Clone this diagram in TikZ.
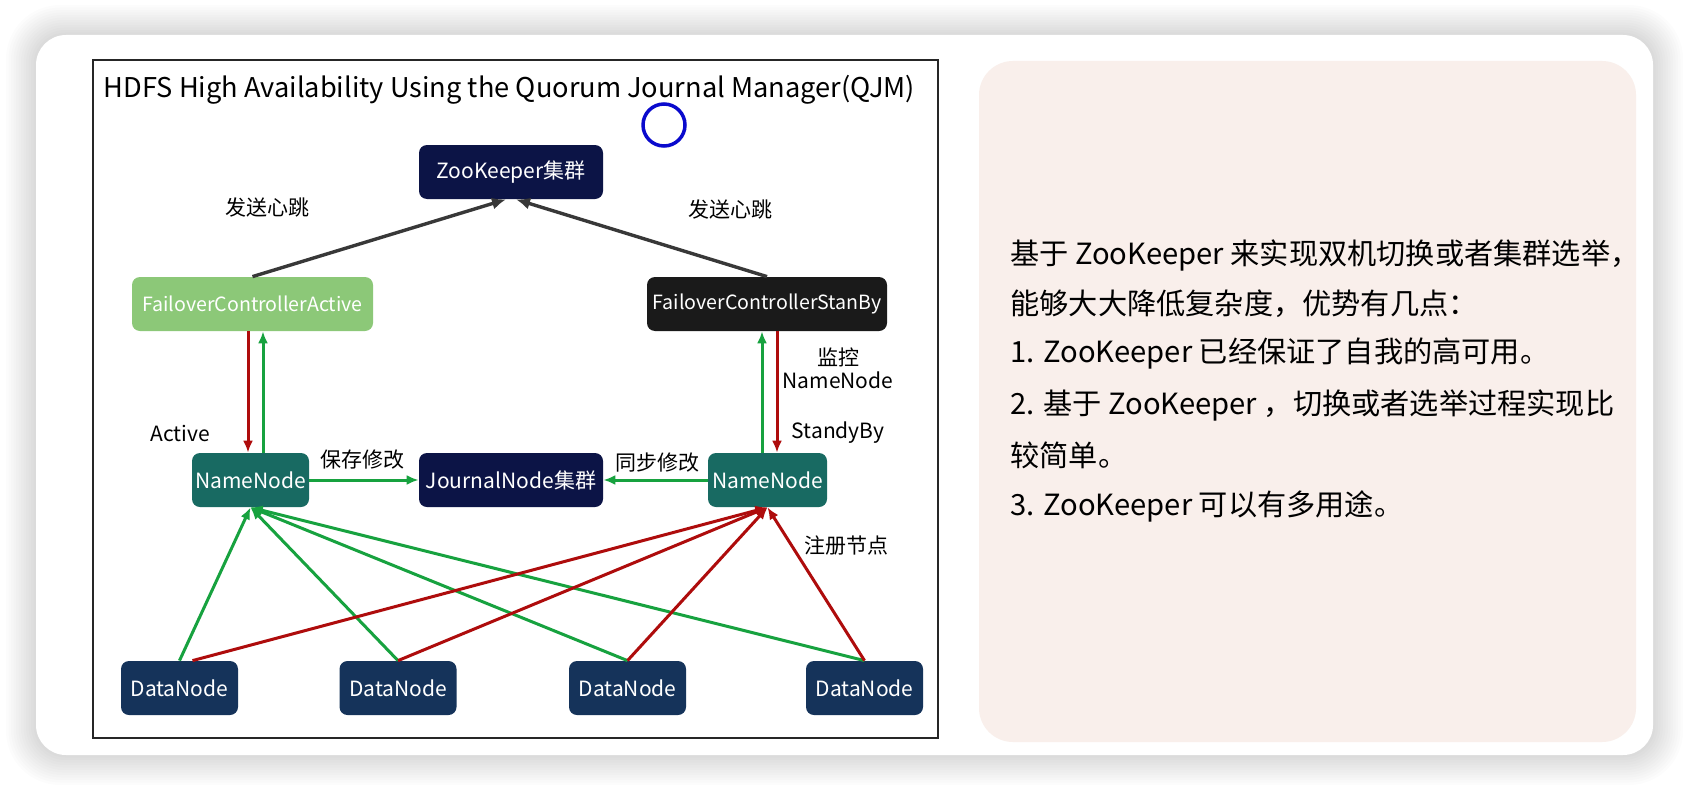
\documentclass[tikz,border=0pt]{standalone}
\usepackage{fontspec}
\setmainfont{Noto Sans CJK SC}
\usepackage{xcolor}
\usetikzlibrary{arrows.meta}

\definecolor{zknavy}{HTML}{0C1446}
\definecolor{dnblue}{HTML}{15335A}
\definecolor{nnteal}{HTML}{186A62}
\definecolor{fcgreen}{HTML}{8CC878}
\definecolor{fcblack}{HTML}{1A1A1A}
\definecolor{argreen}{HTML}{17A23F}
\definecolor{arred}{HTML}{AE0C0C}
\definecolor{argray}{HTML}{383838}
\definecolor{cardpink}{HTML}{F9EFEB}
\definecolor{markblue}{HTML}{0A0ACD}

\begin{document}
\begin{tikzpicture}[x=0.5pt,y=-0.5pt,
    box/.style={rounded corners=4pt,text=white,inner sep=0pt,minimum height=27pt,
                font=\fontsize{10.5}{12}\selectfont},
    fcbox/.style={box,font=\fontsize{9.8}{12}\selectfont},
    lab/.style={inner sep=0pt,font=\fontsize{10.5}{12}\selectfont},
    txt/.style={anchor=west,inner sep=0pt,font=\fontsize{14.6}{18}\selectfont},
    gline/.style={draw=argreen,line width=1.5pt,-{Latex[length=6pt,width=5pt]}},
    rline/.style={draw=arred,line width=1.5pt,-{Latex[length=6pt,width=5pt]}},
    kline/.style={draw=argray,line width=1.7pt,-{Latex[length=7pt,width=6pt]}}]

        \useasboundingbox (0,0) rectangle (1690,792);
        \fill[white] (0,0) rectangle (1690,792);
        \foreach \i in {1,...,12}
            \fill[black,opacity=0.011,rounded corners=15pt+\i pt]
                (36-2.5*\i,35-2.5*\i) rectangle (1653+2.5*\i,755+2.5*\i);
        \fill[white,rounded corners=15pt] (36,35) rectangle (1653,755);
        \fill[cardpink,rounded corners=17pt] (979,61) rectangle (1636,742);
        \draw[line width=1pt,black!85] (93,60) rectangle (938,738);

        \coordinate (T)  at (509.5,90);
        \coordinate (ZK) at (511,172);
        \coordinate (FA) at (252.5,304);
        \coordinate (FS) at (767,304);
        \coordinate (NA) at (250.5,480);
        \coordinate (JN) at (511,480);
        \coordinate (NS) at (767.5,480);

        \node[inner sep=0pt,font=\fontsize{13.6}{16}\selectfont] (title) at (T)
            {HDFS High Availability Using the Quorum Journal Manager(QJM)};
        \draw[markblue,line width=1.75pt] (664,125) circle (10.5pt);

        \node[box,fill=zknavy,minimum width=92pt]   (zk)  at (ZK) {ZooKeeper集群};
        \node[fcbox,fill=fcgreen,minimum width=120.5pt] (fca) at (FA) {FailoverControllerActive};
        \node[fcbox,fill=fcblack,minimum width=120pt] (fcs) at (FS) {FailoverControllerStanBy};
        \node[box,fill=nnteal,minimum width=58.5pt] (nna) at (NA) {NameNode};
        \node[box,fill=zknavy,minimum width=92pt]   (jn)  at (JN) {JournalNode集群};
        \node[box,fill=nnteal,minimum width=59.5pt] (nns) at (NS) {NameNode};
        \foreach \x [count=\k] in {179.5,398,627.5,864.5}
            \node[box,fill=dnblue,minimum width=58.5pt] (dn\k) at (\x,688) {DataNode};

        \draw[kline] (fca.north) -- ([xshift=-2.5pt]zk.south);
        \draw[kline] (fcs.north) -- ([xshift=2.5pt]zk.south);
        \draw[rline] ([xshift=-2.25pt]fca.south) -- ([xshift=-1.25pt]nna.north);
        \draw[gline] ([xshift=6.25pt]nna.north) -- ([xshift=5.25pt]fca.south);
        \draw[gline] ([xshift=-2.75pt]nns.north) -- ([xshift=-2.5pt]fcs.south);
        \draw[rline] ([xshift=5pt]fcs.south) -- ([xshift=4.75pt]nns.north);
        \draw[gline] (nna.east) -- (jn.west);
        \draw[gline] (nns.west) -- (jn.east);

        \draw[gline] (dn1.north) -- (nna.south);
        \draw[gline] (dn2.north) -- (nna.south);
        \draw[gline] (dn3.north) -- (nna.south);
        \draw[gline] (dn4.north) -- (nna.south);
        \draw[rline] ([xshift=6.5pt]dn1.north) -- (nns.south);
        \draw[rline] (dn2.north) -- (nns.south);
        \draw[rline] (dn3.north) -- (nns.south);
        \draw[rline] (dn4.north) -- (nns.south);

        \node[lab] (hbl)  at (267,208) {发送心跳};
        \node[lab] (hbr)  at (730,210) {发送心跳};
        \node[lab] (act)  at (180,433) {Active};
        \node[lab] (save) at (362,460) {保存修改};
        \node[lab] (sync) at (657,463) {同步修改};
        \node[lab] (mon)  at (838,357) {监控};
        \node[lab] (monn) at (838,380) {NameNode};
        \node[lab] (stb)  at (838,433) {StandyBy};
        \node[lab] (reg)  at (846,546) {注册节点};

        \node[txt] (l1) at (1010,255) {基于 ZooKeeper 来实现双机切换或者集群选举，};
        \node[txt] (l2) at (1010,304) {能够大大降低复杂度，优势有几点：};
        \node[txt] (l3) at (1010,354) {1. ZooKeeper 已经保证了自我的高可用。};
        \node[txt] (l4) at (1010,405) {2. 基于 ZooKeeper ，切换或者选举过程实现比};
        \node[txt] (l5) at (1010,455) {较简单。};
        \node[txt] (l6) at (1010,506) {3. ZooKeeper 可以有多用途。};
    \end{tikzpicture}
\end{document}
